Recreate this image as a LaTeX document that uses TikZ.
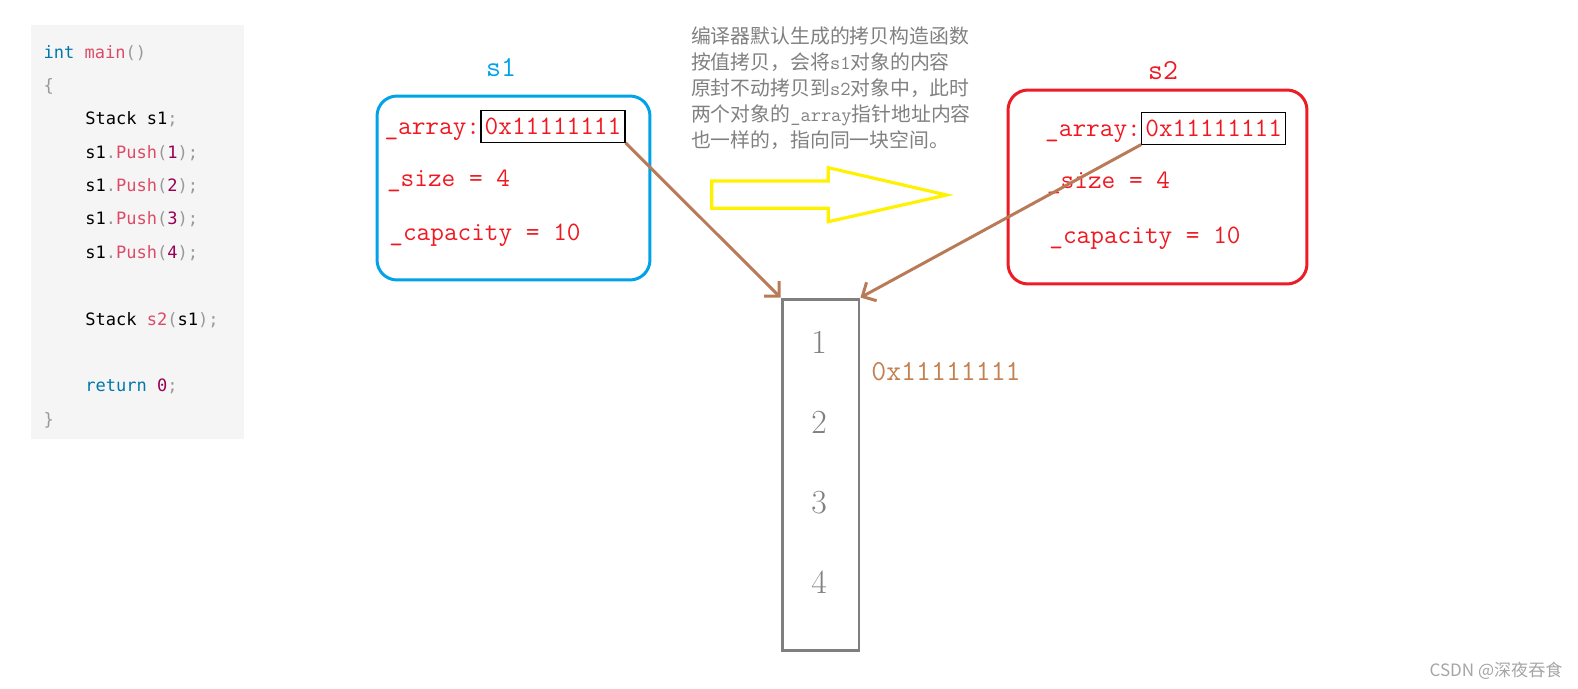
\documentclass[tikz,border=0pt]{standalone}
\usepackage{fontspec}
\usepackage{tikz}
\usetikzlibrary{arrows.meta}

\newfontfamily\codefont{DejaVu Sans Mono}
\newfontfamily\cjkfont{Noto Sans CJK SC}

\definecolor{codebg}{RGB}{245,245,245}
\definecolor{codekw}{RGB}{0,119,170}
\definecolor{codefn}{RGB}{221,74,104}
\definecolor{codenum}{RGB}{153,0,85}
\definecolor{codepun}{RGB}{153,153,153}
\definecolor{objblue}{RGB}{0,162,232}
\definecolor{objred}{RGB}{237,28,36}
\definecolor{fieldred}{RGB}{240,24,32}
\definecolor{ptrbrown}{RGB}{185,122,87}
\definecolor{addrbrown}{RGB}{196,128,80}
\definecolor{memgray}{RGB}{127,127,127}
\definecolor{notegray}{RGB}{128,128,128}
\definecolor{wmgray}{RGB}{165,165,165}
\definecolor{copyyellow}{RGB}{255,242,0}

\newcommand{\ckw}[1]{\textcolor{codekw}{#1}}
\newcommand{\cfn}[1]{\textcolor{codefn}{#1}}
\newcommand{\cnum}[1]{\textcolor{codenum}{#1}}
\newcommand{\cpun}[1]{\textcolor{codepun}{#1}}

\begin{document}
\begin{tikzpicture}[
    x=0.02cm, y=-0.02cm,
    codeline/.style={anchor=base west, inner sep=0, font=\codefont\fontsize{9.7}{12}\selectfont},
    objbox/.style={rectangle, rounded corners=0.4cm, line width=1.7pt},
    objlabel/.style={anchor=base, inner sep=0, font=\ttfamily\fontsize{16.5}{20}\selectfont},
    field/.style={anchor=base west, inner sep=0, text=fieldred, font=\ttfamily\fontsize{15.1}{18}\selectfont},
    addrbox/.style={draw=black, line width=0.6pt, minimum width=2.88cm, minimum height=0.63cm,
        inner sep=0, text=fieldred, font=\ttfamily\fontsize{15.1}{18}\selectfont},
    cell/.style={anchor=base, inner sep=0, text=notegray, font=\fontsize{19.2}{23}\selectfont},
    ptr/.style={-{Straight Barb[length=0.21cm, width=0.42cm]}, line width=1.7pt, draw=ptrbrown},
    note/.style={anchor=north west, inner sep=0, align=left, text=notegray,
        font=\cjkfont\fontsize{11.3}{14.8}\selectfont},
    hollowarrow/.style={draw=copyyellow, line width=1.8pt, line join=miter}
]

\useasboundingbox (0,0) rectangle (1578,689);

% Source code (left)
\node[fill=codebg, minimum width=4.26cm, minimum height=8.28cm, inner sep=0] (code) at (137.5,232) {};

\node[codeline] (c1) at (43.3,58.3) {\ckw{int} \cfn{main}\cpun{()}};
\node[codeline] (c2) at (43.3,91.7) {\cpun{\{}};
\node[codeline] (c3) at (85,125) {Stack s1\cpun{;}};
\node[codeline] (c4) at (85,158.3) {s1\cpun{.}\cfn{Push}\cpun{(}\cnum{1}\cpun{);}};
\node[codeline] (c5) at (85,191.7) {s1\cpun{.}\cfn{Push}\cpun{(}\cnum{2}\cpun{);}};
\node[codeline] (c6) at (85,225) {s1\cpun{.}\cfn{Push}\cpun{(}\cnum{3}\cpun{);}};
\node[codeline] (c7) at (85,258.3) {s1\cpun{.}\cfn{Push}\cpun{(}\cnum{4}\cpun{);}};
\node[codeline] (c8) at (85,325) {Stack \cfn{s2}\cpun{(}s1\cpun{);}};
\node[codeline] (c9) at (85,391.7) {\ckw{return} \cnum{0}\cpun{;}};
\node[codeline] (c10) at (43.3,425) {\cpun{\}}};

% Object s1
\node[objbox, draw=objblue, minimum width=5.46cm, minimum height=3.68cm] (s1) at (513.5,188) {};
\node[objlabel, text=objblue] (s1name) at (501,76.3) {s1};
\node[addrbox] (s1addr) at (553,126.5) {0x11111111};
\node[field, anchor=base east] (s1arr) at (s1addr.base west) {\_array:};
\node[field] (s1size) at (386.7,186.7) {\_size = 4};
\node[field] (s1cap) at (389,240.7) {\_capacity = 10};

% Object s2
\node[objbox, draw=objred, minimum width=5.98cm, minimum height=3.88cm] (s2) at (1157.5,187) {};
\node[objlabel, text=objred] (s2name) at (1163,79.3) {s2};
\node[addrbox] (s2addr) at (1213.7,128.3) {0x11111111};
\node[field, anchor=base east] (s2arr) at (s2addr.base west) {\_array:};
\node[field] (s2size) at (1046.7,188.3) {\_size = 4};
\node[field] (s2cap) at (1049,243.3) {\_capacity = 10};

% Note and copy arrow
\node[note] (note) at (690.7,26.5) {编译器默认生成的拷贝构造函数\\
    按值拷贝，会将{\ttfamily s1}对象的内容\\
    原封不动拷贝到{\ttfamily s2}对象中，此时\\
    两个对象的{\ttfamily\_array}指针地址内容\\
    也一样的，指向同一块空间。};

\draw[hollowarrow] (711.7,181) -- (828.3,181) -- (828.3,167.7) -- (946.7,195)
    -- (828.3,221.7) -- (828.3,208.3) -- (711.7,208.3) -- cycle;

% Heap block
\node[draw=memgray, line width=1.7pt, minimum width=1.54cm, minimum height=7.04cm] (mem) at (820.5,475) {};
\node[cell] (m1) at (819,353.3) {1};
\node[cell] (m2) at (819,433.3) {2};
\node[cell] (m3) at (819,513.3) {3};
\node[cell] (m4) at (819,593.3) {4};
\node[anchor=base west, inner sep=0, text=addrbrown, font=\ttfamily\fontsize{16.5}{20}\selectfont]
    (memaddr) at (871,380.7) {0x11111111};

\draw[ptr] (s1addr.south east) -- (mem.north west);
\draw[ptr] (s2addr.south west) -- (mem.north east);

% Watermark
\node[anchor=base east, inner sep=0, text=wmgray, font=\cjkfont\fontsize{9.7}{12}\selectfont]
    (wm) at (1562.7,676.7) {CSDN @深夜吞食};

\end{tikzpicture}
\end{document}
